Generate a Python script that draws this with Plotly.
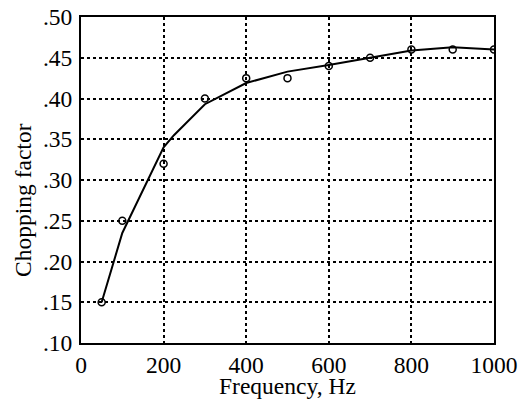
import plotly.graph_objects as go

# Measured points (open circles)
freq_pts = [50, 100, 200, 300, 400, 500, 600, 700, 800, 900, 1000]
chop_pts = [0.15, 0.25, 0.32, 0.40, 0.425, 0.425, 0.44, 0.45, 0.46, 0.46, 0.46]

# Fitted curve
freq_fit = [50, 100, 200, 225, 300, 400, 500, 600, 700, 800, 900, 1000]
chop_fit = [0.15, 0.235, 0.34, 0.355, 0.393, 0.419, 0.433, 0.441, 0.45, 0.459, 0.463, 0.46]

x_ticks = [0, 200, 400, 600, 800, 1000]
y_ticks = [0.10, 0.15, 0.20, 0.25, 0.30, 0.35, 0.40, 0.45, 0.50]
y_tick_labels = [".10", ".15", ".20", ".25", ".30", ".35", ".40", ".45", ".50"]

font = "Liberation Serif"

fig = go.Figure()
fig.add_trace(go.Scatter(x=freq_fit, y=chop_fit, mode="lines",
                         line=dict(color="black", width=2), showlegend=False))
fig.add_trace(go.Scatter(x=freq_pts, y=chop_pts, mode="markers",
                         marker=dict(symbol="circle-open", size=7, color="black",
                                     line=dict(width=1.5, color="black")),
                         showlegend=False))

fig.update_layout(
    width=526, height=401,
    margin=dict(l=81, r=32, t=17, b=58),
    paper_bgcolor="white", plot_bgcolor="white",
    font=dict(family=font, size=23.5, color="black"),
    xaxis=dict(range=[0, 1000], tickvals=x_ticks, ticks="", showgrid=True,
               gridcolor="black", griddash="dot", gridwidth=1.5,
               showline=True, linecolor="black", linewidth=2, mirror=True,
               zeroline=False, ticklabelstandoff=0, automargin=False),
    yaxis=dict(range=[0.10, 0.50], tickvals=y_ticks, ticktext=y_tick_labels,
               ticks="", showgrid=True, gridcolor="black", griddash="dot", gridwidth=1.5,
               showline=True, linecolor="black", linewidth=2, mirror=True,
               zeroline=False, ticklabelstandoff=2, automargin=False),
    annotations=[
        dict(text="Frequency, Hz", xref="paper", yref="paper", x=0.5, y=-0.131,
             xanchor="center", yanchor="middle", showarrow=False,
             font=dict(size=23.5)),
        dict(text="Chopping factor", xref="paper", yref="paper", x=-0.142, y=0.44,
             xanchor="center", yanchor="middle", showarrow=False, textangle=-90,
             font=dict(size=23.5)),
    ],
)

fig.write_html("out.html")
